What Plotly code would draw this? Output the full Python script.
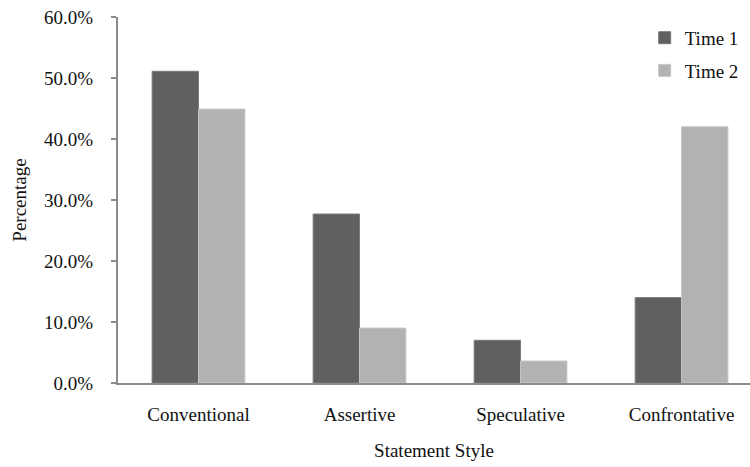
import plotly.graph_objects as go

categories = ["Conventional", "Assertive", "Speculative", "Confrontative"]
time1 = [51.1, 27.7, 7.0, 14.0]
time2 = [44.9, 9.0, 3.6, 42.0]
y_ticks = [0, 10, 20, 30, 40, 50, 60]
y_tick_labels = ["0.0%", "10.0%", "20.0%", "30.0%", "40.0%", "50.0%", "60.0%"]

FONT = "Liberation Serif, Times New Roman, serif"

fig = go.Figure()
fig.add_trace(go.Bar(x=categories, y=time1, name="Time 1", legendgroup="a",
                     marker=dict(color="#606060", line=dict(color="#7a7a7a", width=1))))
fig.add_trace(go.Bar(x=categories, y=time2, name="Time 2", legendgroup="b",
                     marker=dict(color="#b2b2b2", line=dict(color="#c6c6c6", width=1))))

fig.update_layout(
    width=750, height=467,
    margin=dict(l=118, r=0, t=17, b=84),
    paper_bgcolor="white", plot_bgcolor="white",
    font=dict(family=FONT, size=19, color="#111111"),
    barmode="group", bargap=0.424, bargroupgap=0,
    showlegend=True,
    legend=dict(x=0.99, y=0.995, xanchor="right", yanchor="top",
                font=dict(size=19), traceorder="grouped", tracegroupgap=5,
                bgcolor="rgba(0,0,0,0)", itemwidth=30),
    xaxis=dict(range=[-0.5, 3.425], showline=True, linecolor="#8c8c8c", linewidth=2,
               ticks="", showgrid=False, ticklabelstandoff=13,
               title=dict(text="Statement Style", standoff=20, font=dict(size=19))),
    yaxis=dict(range=[0, 60], tickvals=y_ticks, ticktext=y_tick_labels,
               showline=True, linecolor="#8c8c8c", linewidth=2,
               ticks="outside", ticklen=5, tickcolor="#8c8c8c", tickwidth=2,
               showgrid=False, zeroline=False, ticklabelstandoff=14,
               title=dict(text="Percentage", standoff=12, font=dict(size=19))),
)

fig.write_html("out.html", config={"displayModeBar": False},
               post_script="document.body.style.margin='0';document.body.style.overflow='hidden';")
